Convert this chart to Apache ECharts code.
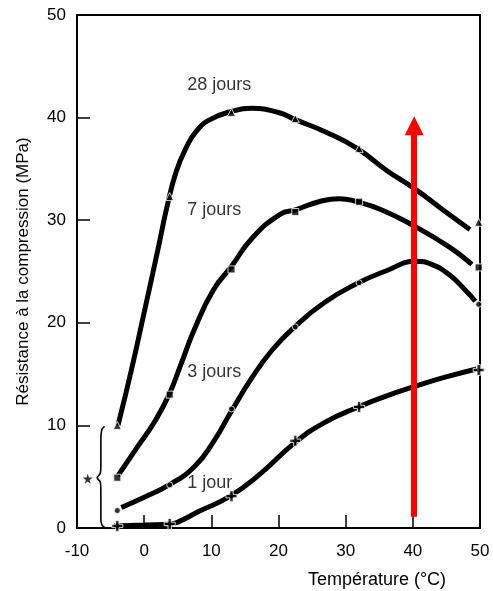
<!DOCTYPE html>
<html>
<head>
<meta charset="utf-8">
<script src="https://cdn.jsdelivr.net/npm/echarts@6/dist/echarts.min.js"></script>
<style>
html,body{margin:0;padding:0;background:#fff;}
#chart{width:493px;height:591px;}
</style>
</head>
<body>
<div id="chart"></div>
<script>
// Measured temperatures (°C)
const temps = [-4, 3.8, 13, 22.5, 32, 49.8];
// Measured strengths (MPa) at each temperature
const m28 = [10, 32.3, 40.5, 39.9, 37.0, 29.8];
const m7  = [4.9, 13.0, 25.2, 30.8, 31.8, 25.4];
const m3  = [1.7, 4.2, 11.6, 19.6, 23.9, 21.8];
const m1  = [0.2, 0.4, 3.1, 8.5, 11.8, 15.4];

// Fitted curves
const c28X = [-3.9, -1.9, 0, 2, 3.5, 4.8, 6.2, 7.8, 9.8, 13, 16, 20, 22.5, 27, 31.7, 36, 40.4, 44.5, 48.5];
const c28Y = [10, 15.4, 21, 27, 31.6, 34.8, 37.0, 38.7, 39.8, 40.6, 40.9, 40.5, 39.8, 38.6, 37.0, 34.9, 33.0, 31.0, 29.1];
const c7X = [-3.9, -0.9, 1.5, 3.7, 5.5, 7.5, 10.3, 13, 16, 20.3, 22.5, 26, 29, 31.7, 35.4, 40.3, 45.4, 48.8];
const c7Y = [5.1, 8.0, 10.3, 13.0, 16.0, 19.4, 23.2, 25.5, 28.2, 30.6, 31.0, 31.8, 32.1, 31.8, 31.0, 29.4, 27.4, 25.7];
const c3X = [-3.4, 0, 3.7, 7.5, 10.4, 13, 16, 19, 22.4, 26.9, 31.9, 35.8, 40.5, 42.8, 45.4, 47.8, 49.3];
const c3Y = [2.0, 3.0, 4.2, 6.0, 8.5, 11.4, 14.6, 17.3, 19.6, 22.0, 23.9, 25.0, 26.0, 25.7, 24.7, 23.2, 22.1];
const c1X = [-4.5, 0, 4, 5.1, 8.1, 12.8, 17.5, 22.4, 26.9, 31.9, 35.8, 40.3, 44.8, 49.5];
const c1Y = [0.2, 0.3, 0.4, 0.6, 1.6, 3.1, 5.4, 8.3, 10.3, 11.8, 12.8, 13.8, 14.7, 15.5];

// Curve labels
const labelText = ['28 jours', '7 jours', '3 jours', '1 jour'];
const labelX = [6.4, 6.4, 6.4, 6.4];
const labelY = [43.2, 31.0, 15.2, 4.4];

// Brace and star annotation
const braceX = [-5.9, -6.3, -6.45, -6.45, -6.55, -7.0, -6.55, -6.45, -6.45, -6.3, -5.9];
const braceY = [9.9, 9.6, 8.5, 6.0, 5.3, 4.9, 4.5, 3.8, 0.9, 0.3, 0.05];
const starPos = [-8.4, 4.8];

// Red arrow
const arrowX = 40.2;
const arrowFrom = 1.1;
const arrowTo = 39.2;

// Axes
const xTicks = [-10, 0, 10, 20, 30, 40, 50];
const yTicks = [0, 10, 20, 30, 40, 50];

const zip = (xs, ys) => xs.map((x, i) => [x, ys[i]]);
const FONT = 'Liberation Sans, Arial, sans-serif';
const plusPath = 'path://M3.5,0H6.5V3.5H10V6.5H6.5V10H3.5V6.5H0V3.5H3.5Z';
const starPath = 'path://M50,0L61,35H98L68,57L79,91L50,70L21,91L32,57L2,35H39Z';

function curve(xs, ys) {
  return {
    type: 'line', data: zip(xs, ys), smooth: 0.5, symbol: 'none',
    lineStyle: {color: '#000', width: 5}, z: 3, silent: true
  };
}
function markers(ys, sym, size) {
  return {
    type: 'scatter', data: zip(temps, ys), symbol: sym, symbolSize: size,
    itemStyle: {color: '#000', borderColor: '#fff', borderWidth: 1}, z: 5, silent: true
  };
}

const chart = echarts.init(document.getElementById('chart'), null, {renderer: 'canvas'});
chart.setOption({
  animation: false,
  backgroundColor: '#fff',
  grid: {left: 77, right: 13, top: 15, bottom: 63, show: true, borderColor: '#000', borderWidth: 2},
  xAxis: {
    type: 'value', min: xTicks[0], max: xTicks[xTicks.length - 1], interval: 10,
    axisLine: {onZero: false, lineStyle: {color: '#000', width: 2}},
    axisTick: {inside: true, length: 13, lineStyle: {color: '#000', width: 1.5}},
    axisLabel: {color: '#000', fontSize: 17, fontFamily: FONT, margin: 15},
    splitLine: {show: false}
  },
  yAxis: {
    type: 'value', min: yTicks[0], max: yTicks[yTicks.length - 1], interval: 10,
    name: 'Résistance à la compression (MPa)', nameLocation: 'middle', nameGap: 45,
    nameTextStyle: {color: '#000', fontSize: 17, fontFamily: FONT},
    axisLine: {onZero: false, lineStyle: {color: '#000', width: 2}},
    axisTick: {inside: true, length: 13, lineStyle: {color: '#000', width: 1.5}},
    axisLabel: {color: '#000', fontSize: 17, fontFamily: FONT, margin: 11},
    splitLine: {show: false}
  },
  graphic: [{
    type: 'text', x: 377, y: 580,
    style: {text: 'Température (°C)', fill: '#000', font: '18px ' + FONT, textAlign: 'center', textVerticalAlign: 'middle'}
  }],
  series: [
    curve(c28X, c28Y), curve(c7X, c7Y), curve(c3X, c3Y), curve(c1X, c1Y),
    markers(m28, 'triangle', 8), markers(m7, 'rect', 7), markers(m3, 'circle', 6), markers(m1, plusPath, 11),
    {
      type: 'scatter', data: labelX.map((x, i) => [x, labelY[i], labelText[i]]),
      symbolSize: 0, silent: true, z: 6,
      label: {show: true, position: 'right', distance: 0, formatter: p => p.data[2],
        color: '#000', fontSize: 18, fontFamily: FONT}
    },
    {
      type: 'line', data: zip(braceX, braceY), smooth: 0.3, symbol: 'none',
      lineStyle: {color: '#000', width: 1.6}, silent: true
    },
    {
      type: 'scatter', data: [starPos], symbol: starPath, symbolSize: 10,
      itemStyle: {color: '#000'}, silent: true
    },
    {
      type: 'line', data: [], silent: true, z: 8,
      markLine: {
        silent: true, animation: false,
        symbol: ['none', 'triangle'], symbolSize: 19,
        label: {show: false},
        lineStyle: {color: '#ff0000', width: 6, type: 'solid'},
        itemStyle: {color: '#ff0000'},
        data: [[{coord: [arrowX, arrowFrom]}, {coord: [arrowX, arrowTo]}]]
      }
    }
  ]
});
</script>
</body>
</html>
